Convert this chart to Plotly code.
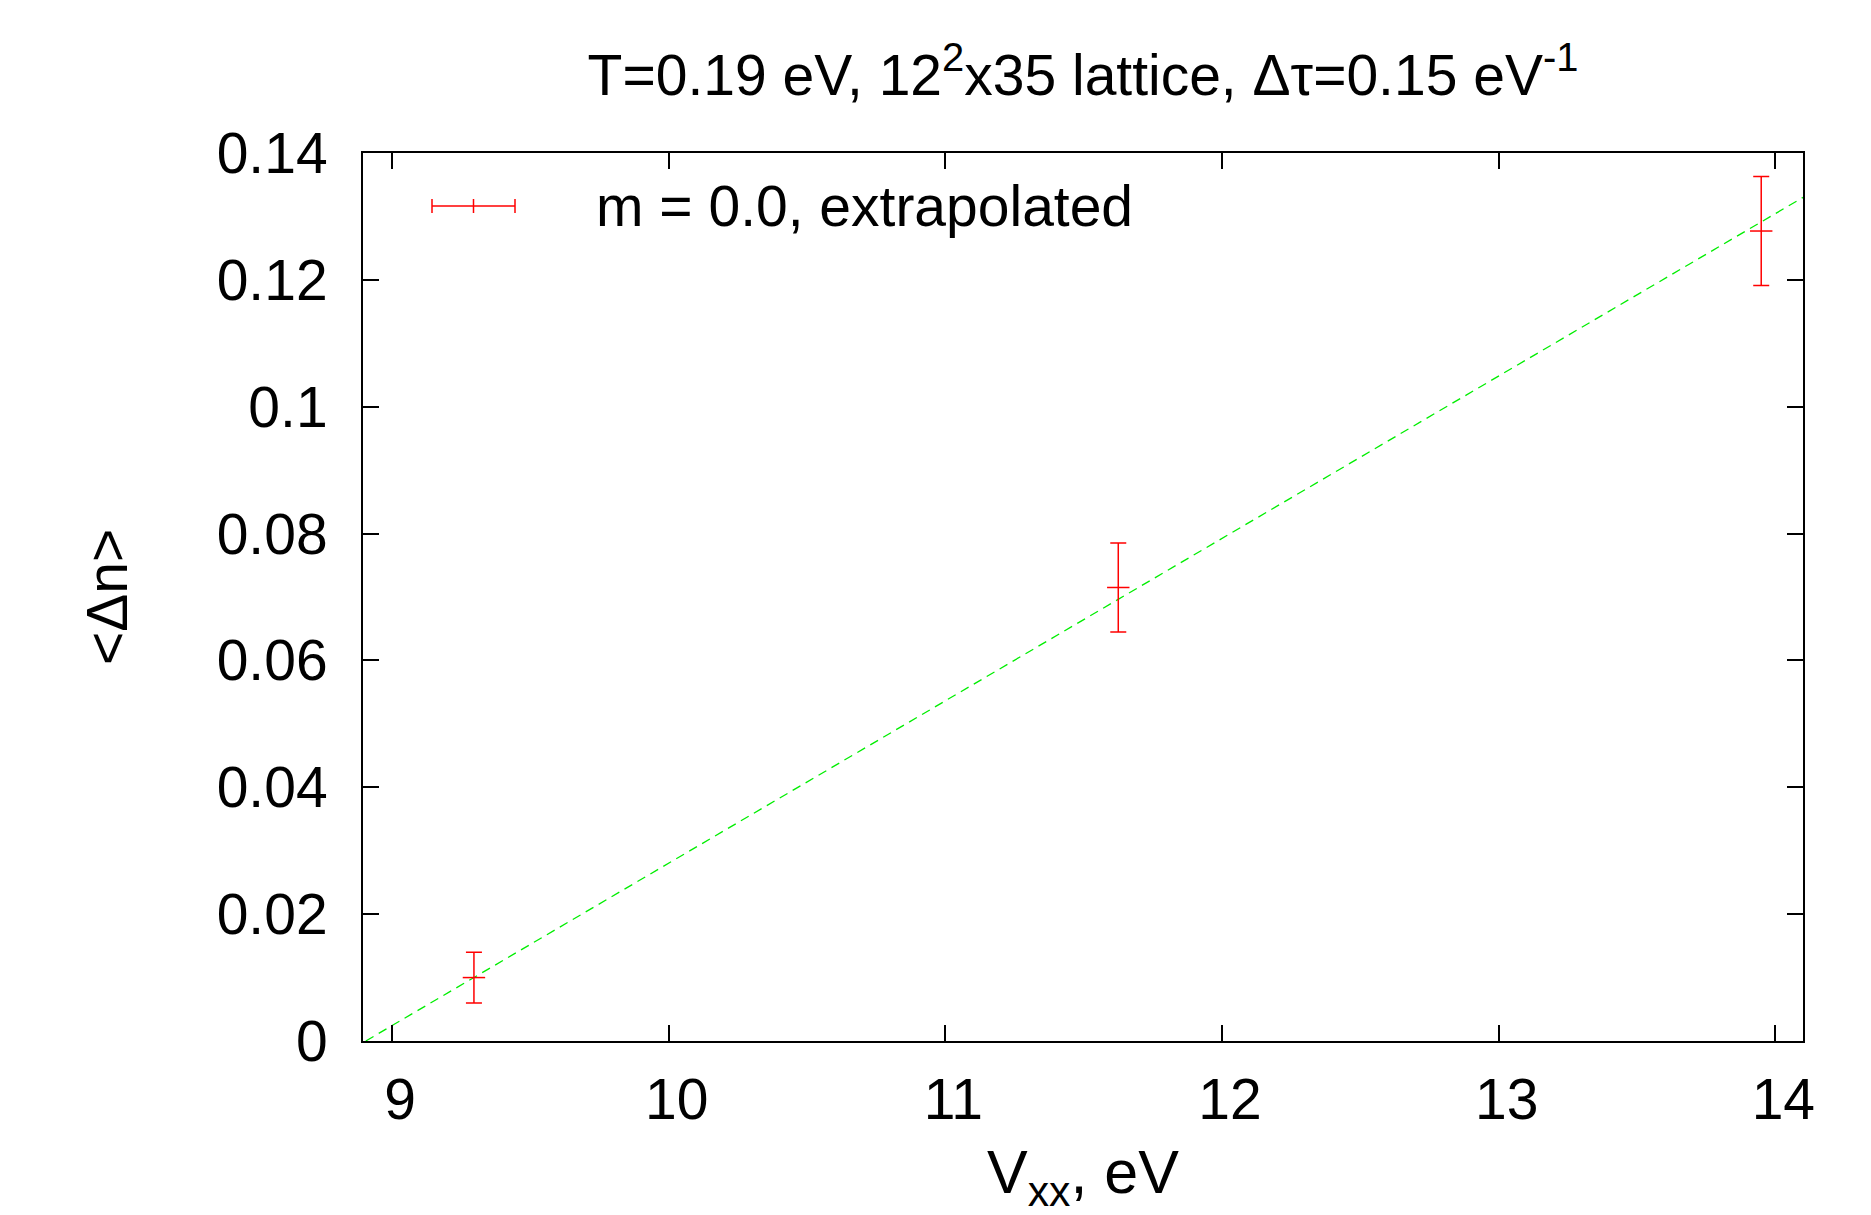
import plotly.graph_objects as go

# Data
vxx = [9.296, 11.625, 13.949]
dn = [0.0100, 0.0715, 0.1277]
dn_err = [0.0040, 0.0070, 0.0086]

# fitted straight line (endpoints)
fit_x = [8.905, 14.10]
fit_y = [0.0, 0.1330]

x_ticks = [9, 10, 11, 12, 13, 14]
y_ticks = [0, 0.02, 0.04, 0.06, 0.08, 0.1, 0.12, 0.14]
y_ticklabels = ["0", "0.02", "0.04", "0.06", "0.08", "0.1", "0.12", "0.14"]

FONT = "Liberation Sans, Arial, Helvetica, sans-serif"
FS = 57
RED = "#ff0000"
GREEN = "#00ee00"

fig = go.Figure()

fig.add_trace(go.Scatter(
    x=fit_x, y=fit_y, mode="lines",
    line=dict(color=GREEN, width=1.3, dash="9px,6px"),
    showlegend=False, hoverinfo="skip",
))

fig.add_trace(go.Scatter(
    x=vxx, y=dn, mode="markers",
    marker=dict(symbol="line-ew", size=16, line=dict(color=RED, width=1.5), color=RED),
    error_y=dict(type="data", array=dn_err, visible=True, color=RED, thickness=1.5, width=8),
    showlegend=False,
))

# page body has an 8px margin; screen-space plot box: 363..1803 x 153..1041
OFF = 8
W, H = 1871 - OFF, 1215 - OFF
L, R, T, B = 363 - OFF, 68, 153 - OFF, 174
pw, ph = W - L - R, H - T - B
SX0, SY1 = 363, 1041  # screen coords of plot left / bottom

def px(sx):
    return (sx - SX0) / pw

def py(sy):
    return (SY1 - sy) / ph

# manual legend sample (horizontal errorbar glyph)
ly = py(206)
cap = 7 / ph
lx0, lx1, lxc = px(432), px(515), px(473.5)
shapes = [
    dict(type="line", xref="paper", yref="paper", x0=lx0, x1=lx1, y0=ly, y1=ly,
         line=dict(color=RED, width=1.5)),
    dict(type="line", xref="paper", yref="paper", x0=lx0, x1=lx0, y0=ly - cap, y1=ly + cap,
         line=dict(color=RED, width=1.5)),
    dict(type="line", xref="paper", yref="paper", x0=lx1, x1=lx1, y0=ly - cap, y1=ly + cap,
         line=dict(color=RED, width=1.5)),
    dict(type="line", xref="paper", yref="paper", x0=lxc, x1=lxc, y0=ly - cap, y1=ly + cap,
         line=dict(color=RED, width=1.5)),
]

annotations = [
    dict(text="m = 0.0, extrapolated", xref="paper", yref="paper", x=px(594), y=ly,
         xanchor="left", yanchor="middle", showarrow=False,
         font=dict(family=FONT, size=FS, color="black")),
    dict(text="<Δn>", xref="paper", yref="paper", x=px(107), y=py(597),
         xanchor="center", yanchor="middle", showarrow=False, textangle=-90,
         font=dict(family=FONT, size=FS, color="black")),
    dict(text="V<sub>xx</sub>, eV", xref="paper", yref="paper", x=px(1083), y=py(1176),
         xanchor="center", yanchor="middle", showarrow=False,
         font=dict(family=FONT, size=61, color="black")),
]

axis_common = dict(
    showline=True, linecolor="black", linewidth=2, mirror="ticks",
    ticks="inside", ticklen=16, tickwidth=2, tickcolor="black",
    showgrid=False, zeroline=False,
    tickfont=dict(family=FONT, size=FS, color="black"),
)

fig.update_layout(
    width=W, height=H,
    margin=dict(l=L, r=R, t=T, b=B),
    paper_bgcolor="white", plot_bgcolor="white",
    title=dict(
        text="T=0.19 eV, 12<sup>2</sup>x35 lattice, Δτ=0.15 eV<sup>-1</sup>",
        x=px(1083), xref="paper", xanchor="center",
        y=1 - (75 - OFF) / H, yref="container", yanchor="middle",
        font=dict(family=FONT, size=FS, color="black"),
    ),
    xaxis=dict(range=[8.895, 14.10], tickvals=x_ticks, ticktext=[str(v) for v in x_ticks],
               ticklabelstandoff=8, ticklabelshift=8, **axis_common),
    yaxis=dict(range=[0, 0.14], tickvals=y_ticks, ticktext=y_ticklabels,
               ticklabelstandoff=22, **axis_common),
    shapes=shapes,
    annotations=annotations,
    showlegend=False,
)

fig.write_html("out.html")
